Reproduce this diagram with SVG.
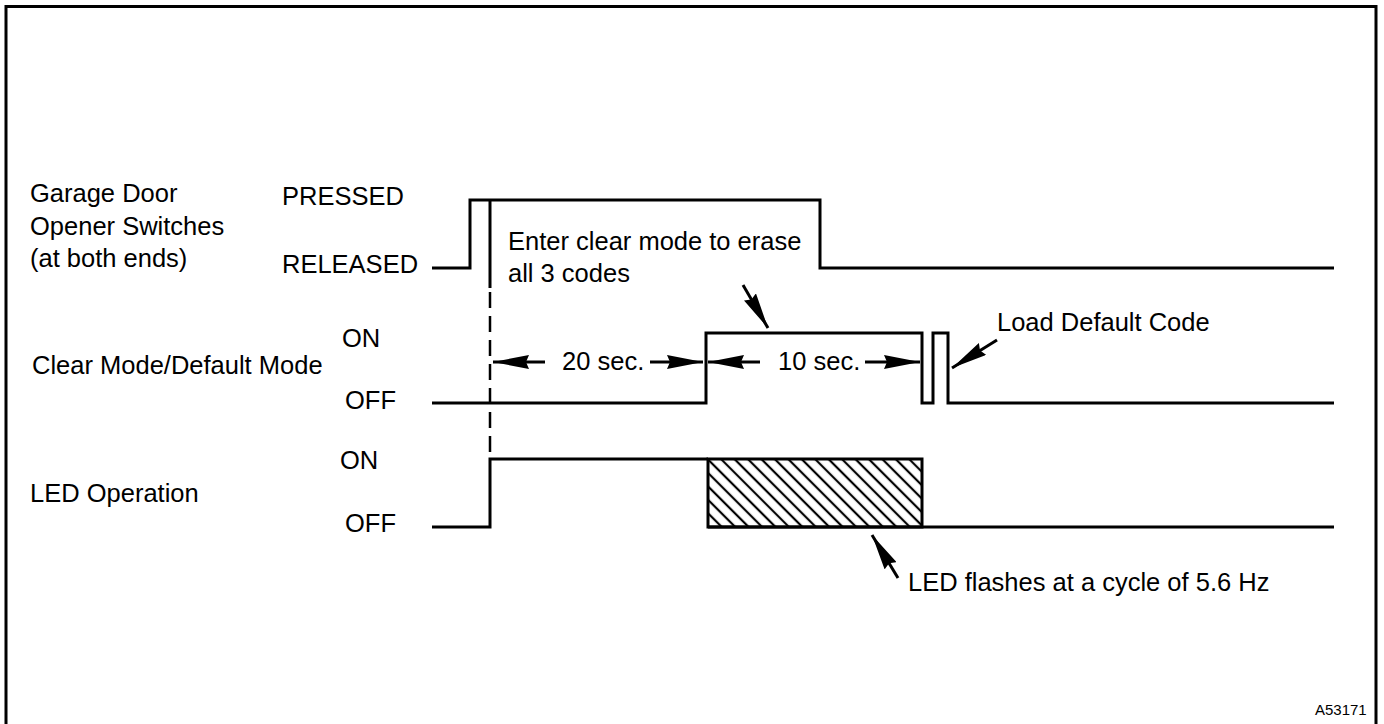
<svg xmlns="http://www.w3.org/2000/svg" width="1384" height="724" viewBox="0 0 1384 724">
<style>
text{font-family:"Liberation Sans",Arial,sans-serif;font-size:25.5px;fill:#000}
.wave{fill:none;stroke:#000;stroke-width:3;stroke-linejoin:miter}
.arrow{fill:none;stroke:#000;stroke-width:3;marker-end:url(#ah)}
.dash{fill:none;stroke:#000;stroke-width:2.5;stroke-dasharray:16 8}
</style>
<defs>
<marker id="ah" viewBox="0 0 36 14" refX="36" refY="7" markerWidth="36" markerHeight="14" markerUnits="userSpaceOnUse" orient="auto">
<path d="M0,0 L36,7 L0,14 L3,7 Z" fill="#000"/>
</marker>
<pattern id="hatch" width="9.5" height="9.5" patternUnits="userSpaceOnUse" patternTransform="rotate(-45)">
<line x1="4.75" y1="0" x2="4.75" y2="9.5" stroke="#000" stroke-width="2.2"/>
</pattern>
</defs>
<rect width="1384" height="724" fill="#fff"/>
<path d="M6,724 V6.5 H1376 V724" fill="none" stroke="#000" stroke-width="3"/>

<g id="switch-signal">
<text x="30" y="202">Garage Door</text>
<text x="30" y="235">Opener Switches</text>
<text x="30" y="267">(at both ends)</text>
<text x="282" y="205">PRESSED</text>
<text x="282" y="273">RELEASED</text>
<path class="wave" d="M432,268 H470 V200 H820 V268 H1334"/>
<path class="wave" d="M490,201 V288"/>
<path class="dash" d="M490,292 V458"/>
</g>

<g id="clear-mode-signal">
<text x="32" y="374">Clear Mode/Default Mode</text>
<text x="342" y="347">ON</text>
<text x="345" y="409">OFF</text>
<path class="wave" d="M432,403 H706 V333 H922 V403 H933 V333 H948 V403 H1334"/>
</g>

<g id="led-signal">
<text x="30" y="502">LED Operation</text>
<text x="340" y="469">ON</text>
<text x="345" y="532">OFF</text>
<rect x="708" y="459" width="214" height="68" fill="url(#hatch)" stroke="#000" stroke-width="3"/>
<path class="wave" d="M432,527 H490 V459 H708 M708,527 H1334"/>
</g>

<g id="labels">
<text x="508" y="250">Enter clear mode to erase</text>
<text x="508" y="282">all 3 codes</text>
<text x="562" y="370">20 sec.</text>
<text x="778" y="370">10 sec.</text>
<text x="997" y="331">Load Default Code</text>
<text x="908" y="591">LED flashes at a cycle of 5.6 Hz</text>
<text x="1315" y="715" style="font-size:15px">A53171</text>
</g>

<g id="connectors">
<line class="arrow" x1="545" y1="362" x2="493" y2="362"/>
<line class="arrow" x1="650" y1="362" x2="703" y2="362"/>
<line class="arrow" x1="760" y1="362" x2="708" y2="362"/>
<line class="arrow" x1="865" y1="362" x2="920" y2="362"/>
<line class="arrow" x1="743" y1="285" x2="768" y2="328"/>
<line class="arrow" x1="997" y1="340" x2="952" y2="368"/>
<line class="arrow" x1="898" y1="578" x2="872" y2="535"/>
</g>
</svg>
